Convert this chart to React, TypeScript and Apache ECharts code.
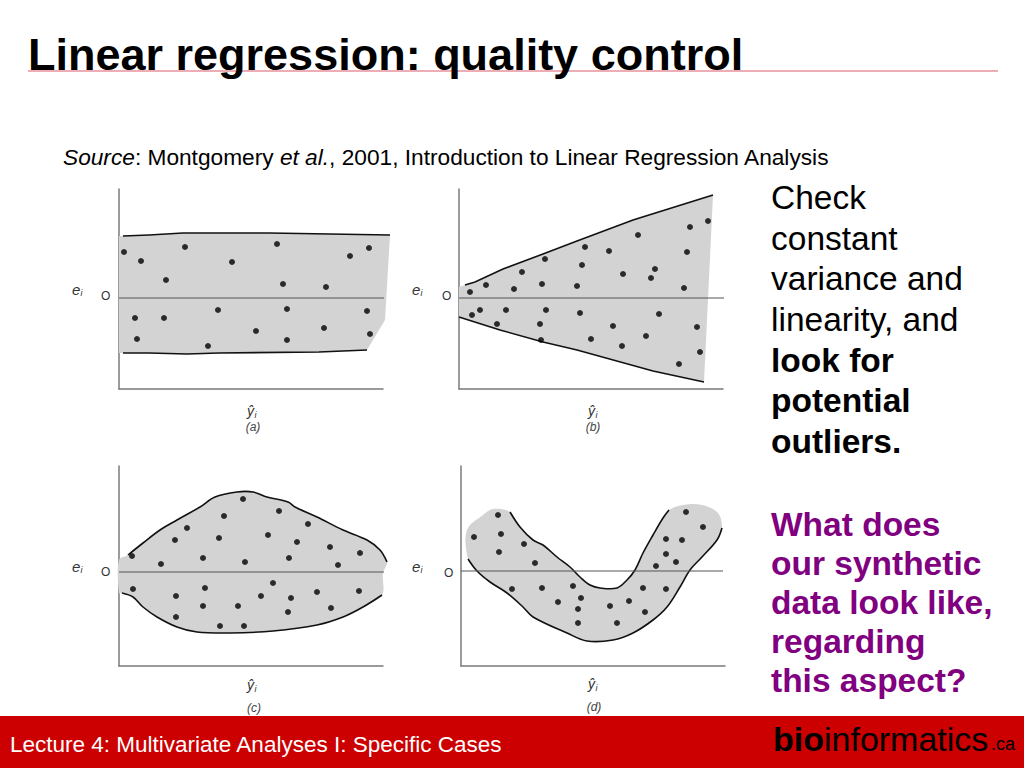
import React, { useEffect, useRef } from "react";
import * as echarts from "echarts";

// ---------- texts ----------
const TITLE = "Linear regression: quality control";
const FOOTER = "Lecture 4: Multivariate Analyses I: Specific Cases";
const BLACK_LINES = [
  { t: "Check", b: false },
  { t: "constant", b: false },
  { t: "variance and", b: false },
  { t: "linearity, and", b: false },
  { t: "look for", b: true },
  { t: "potential", b: true },
  { t: "outliers.", b: true },
];
const PURPLE_LINES = ["What does", "our synthetic", "data look like,", "regarding", "this aspect?"];
const PANEL_TAGS = ["(a)", "(b)", "(c)", "(d)"];

// ---------- panel (a): constant variance ----------
const dotsA = [
  [5, 46], [22, 37], [66, 51], [47, 18], [113, 36], [158, 54], [164, 14], [207, 11], [231, 42], [250, 50],
  [16, -20], [45, -20], [18, -41], [99, -12], [89, -48], [137, -33], [168, -11], [168, -42], [205, -30],
  [248, -13], [251, -36],
];
const upperA = [[4, 62], [30, 63], [64, 65], [150, 65], [271, 63]];
const lowerA = [[4, -55], [30, -55], [68, -56], [100, -55], [200, -54], [248, -52]];
const rightA = [[266, -22]];

// ---------- panel (b): funnel ----------
const dotsB = [
  [11, 6], [27, 13], [55, 9], [63, 26], [83, 14], [86, 39], [118, 12], [123, 33], [126, 51], [150, 47],
  [164, 24], [179, 63], [192, 20], [196, 29], [225, 10], [228, 46], [231, 71], [249, 77],
  [13, -17], [21, -12], [38, -26], [47, -12], [81, -26], [87, -12], [82, -42], [121, -15], [132, -41],
  [154, -28], [163, -48], [187, -38], [200, -16], [220, -66], [238, -29], [241, -54],
];
const upperB = [[6, 13], [16, 16], [44, 29], [84, 44], [118, 57], [174, 78], [254, 103]];
const lowerB = [[0, -19], [41, -32], [84, -44], [118, -52], [194, -73], [245, -84]];

// ---------- panel (c): double bow ----------
const dotsC = [
  [13, 16], [42, 8], [56, 32], [68, 44], [84, 14], [100, 34], [105, 56], [124, 73], [126, 10], [149, 37],
  [160, 61], [170, 14], [178, 30], [189, 48], [211, 25], [219, 7], [241, 19],
  [14, -17], [57, -24], [57, -45], [84, -34], [86, -16], [101, -54], [119, -34], [125, -54], [142, -24],
  [154, -11], [169, -40], [172, -26], [198, -20], [212, -36], [240, -19],
];
const upperC = [
  [9, 17], [24, 29], [41, 42], [58, 52], [81, 65], [96, 75], [118, 80], [134, 80], [148, 75], [169, 70],
  [176, 65], [198, 55], [224, 42], [248, 32], [261, 22], [268, 10],
];
const lowerC = [
  [3, -21], [14, -25], [24, -35], [38, -45], [58, -55], [78, -60], [111, -61], [154, -59], [198, -53],
  [224, -45], [244, -35], [263, -23],
];

// ---------- panel (d): nonlinear ----------
const dotsD = [
  [13, 34], [37, 56], [40, 37], [38, 19], [63, 27], [74, 8], [51, -18], [81, -17], [97, -31], [112, -15],
  [120, -27], [117, -38], [117, -52], [149, -35], [156, -52], [168, -30], [182, -17], [184, -41],
  [205, -18], [195, 5], [205, 17], [215, 9], [205, 32], [221, 31], [225, 59], [242, 44],
];
const innerD = [
  [49, 59], [59, 44], [72, 31], [82, 26], [96, 14], [109, 4], [119, -6], [129, -14], [139, -17], [156, -17],
  [166, -9], [174, 1], [182, 18], [192, 36], [202, 53], [208, 61],
];
const outerD = [
  [261, 43], [256, 31], [241, 14], [229, 1], [219, -16], [206, -36], [192, -49], [172, -62], [152, -69],
  [126, -70], [106, -62], [72, -46], [62, -36], [46, -22], [29, -11], [16, 0], [7, 12],
];
const leftCapD = [[6, 41], [22, 56], [32, 62]];
const rightCapD = [[222, 66], [241, 66], [257, 58]];

const shadeA = [[0, 62], ...upperA, ...rightA, ...lowerA.slice().reverse(), [0, -55]];
const shadeB = [[0, 11], ...upperB, ...lowerB.slice().reverse()];
const shadeC = [[0, 12], ...upperC, [264, -1], ...lowerC.slice().reverse(), [0, -21]];
const shadeD = [...leftCapD, ...innerD, ...rightCapD, ...outerD];

const PANELS = [
  { left: 119, top: 189, yMin: -91, yMax: 109, zeroEnd: 267, dots: dotsA, shade: shadeA, strokes: [upperA, lowerA], smooth: 0 },
  { left: 459, top: 189, yMin: -91, yMax: 109, zeroEnd: 269, dots: dotsB, shade: shadeB, strokes: [upperB, lowerB], smooth: 0 },
  { left: 119, top: 466, yMin: -94, yMax: 106, zeroEnd: 266, dots: dotsC, shade: shadeC, strokes: [upperC, lowerC], smooth: 0.35 },
  { left: 461, top: 466, yMin: -95, yMax: 105, zeroEnd: 262, dots: dotsD, shade: shadeD, strokes: [innerD, outerD], smooth: 0.35 },
];

const W = 264;
const H = 200;
const FONT = '"Liberation Sans", Arial, Helvetica, sans-serif';

function buildOption() {
  const grid: any[] = [];
  const xAxis: any[] = [];
  const yAxis: any[] = [];
  const series: any[] = [];
  const axisLine = { show: true, lineStyle: { color: "#7a7a7a", width: 1.5 } };

  PANELS.forEach((p, i) => {
    grid.push({ left: p.left, top: p.top, width: W, height: H });
    xAxis.push({
      type: "value", gridIndex: i, min: 0, max: W, position: "bottom",
      axisLine: { ...axisLine, onZero: false }, axisTick: { show: false }, axisLabel: { show: false }, splitLine: { show: false },
    });
    yAxis.push({
      type: "value", gridIndex: i, min: p.yMin, max: p.yMax, position: "left",
      axisLine: { ...axisLine, onZero: false }, axisTick: { show: false }, axisLabel: { show: false }, splitLine: { show: false },
    });
    const shade = p.shade;
    const strokes = p.strokes;
    const smooth = p.smooth;
    series.push({
      type: "custom", xAxisIndex: i, yAxisIndex: i, clip: false, silent: true, z: 1,
      data: [[0, 0]],
      renderItem: (params: any, api: any) => {
        if (params.dataIndex !== 0) return null;
        const toPx = (pts: number[][]) => pts.map((q) => api.coord(q));
        const children: any[] = [
          { type: "polygon", shape: { points: toPx(shade), smooth }, style: { fill: "#d3d3d3", stroke: null } },
        ];
        strokes.forEach((s) => {
          children.push({
            type: "polyline", shape: { points: toPx(s), smooth },
            style: { stroke: "#111", lineWidth: 1.6, fill: null },
          });
        });
        return { type: "group", children };
      },
    });
    series.push({
      type: "line", xAxisIndex: i, yAxisIndex: i, clip: false, silent: true, z: 3,
      data: [[0, 0], [p.zeroEnd, 0]], symbol: "none",
      lineStyle: { color: "#555", width: 1 },
    });
    series.push({
      type: "scatter", xAxisIndex: i, yAxisIndex: i, clip: false, silent: true, z: 4,
      data: p.dots, symbol: "circle", symbolSize: 6,
      itemStyle: { color: "#000" },
    });
  });

  const t = (x: number, y: number, text: string, font: string, fill: string, extra: any = {}) => ({
    type: "text", x, y, z: 10,
    style: { text, font, fill, align: "left", verticalAlign: "middle", ...extra },
  });

  const elements: any[] = [];
  // title + underline
  elements.push({ type: "line", z: 5, shape: { x1: 28, y1: 71, x2: 998, y2: 71 }, style: { stroke: "#e8919c", lineWidth: 1.5 } });
  elements.push(t(28, 54, TITLE, `bold 45px ${FONT}`, "#000"));
  // source
  elements.push({
    type: "text", x: 63, y: 157, z: 10,
    style: {
      text: "{i|Source}{n|: Montgomery }{i|et al.}{n|, 2001, Introduction to Linear Regression Analysis}",
      verticalAlign: "middle", align: "left",
      rich: {
        i: { fontFamily: FONT, fontSize: 22.7, fontStyle: "italic", fill: "#000" },
        n: { fontFamily: FONT, fontSize: 22.7, fill: "#000" },
      },
    },
  });
  // right-hand black text
  const blackBase = [209, 250, 290.5, 331, 372, 412.5, 453];
  BLACK_LINES.forEach((l, k) => {
    elements.push(t(771, blackBase[k] - 11.6, l.t, `${l.b ? "bold " : ""}33.5px ${FONT}`, "#000"));
  });
  const purpleBase = [536.5, 575, 614, 653, 692];
  PURPLE_LINES.forEach((l, k) => {
    elements.push(t(771, purpleBase[k] - 11.6, l, `bold 33.5px ${FONT}`, "#800080"));
  });
  // panel labels
  const eLab = [[72, 289], [412, 289], [72, 566], [412, 566]];
  const oLab = [[101, 296], [442, 296], [101, 572], [444, 573]];
  const yLab = [[247, 411], [588, 411], [247, 685], [588, 684]];
  const tagLab = [[253, 427], [593, 427], [254, 708], [594, 707]];
  for (let k = 0; k < 4; k++) {
    elements.push(t(eLab[k][0], eLab[k][1], "e", `italic 15px ${FONT}`, "#333"));
    elements.push(t(eLab[k][0] + 8.5, eLab[k][1] + 4, "i", `italic 9px ${FONT}`, "#333"));
    elements.push(t(oLab[k][0], oLab[k][1], "O", `12px ${FONT}`, "#333"));
    elements.push(t(yLab[k][0], yLab[k][1], "ŷ", `italic 14px ${FONT}`, "#333"));
    elements.push(t(yLab[k][0] + 7.5, yLab[k][1] + 4, "i", `italic 9px ${FONT}`, "#333"));
    elements.push(t(tagLab[k][0], tagLab[k][1], PANEL_TAGS[k], `italic 12px ${FONT}`, "#444", { align: "center" }));
  }
  // footer
  elements.push({ type: "rect", z: 8, shape: { x: 0, y: 716, width: 1024, height: 52 }, style: { fill: "#cc0000" } });
  elements.push(t(10, 744, FOOTER, `22.5px ${FONT}`, "#fff"));
  elements.push({
    type: "text", x: 773, y: 738.5, z: 10,
    style: {
      text: "{b|bio}{r|informatics}", align: "left", verticalAlign: "middle",
      rich: {
        b: { fontFamily: FONT, fontSize: 34, fontWeight: "bold", fill: "#000" },
        r: { fontFamily: FONT, fontSize: 34, fill: "#000" },
      },
    },
  });
  elements.push(t(991, 743.5, ".ca", `18px ${FONT}`, "#000"));

  return {
    animation: false,
    backgroundColor: "#fff",
    grid, xAxis, yAxis, series,
    graphic: { elements },
  };
}

export default function App() {
  const ref = useRef<HTMLDivElement>(null);
  useEffect(() => {
    if (!ref.current) return;
    const chart = echarts.init(ref.current, undefined, { renderer: "svg" });
    chart.setOption(buildOption() as any);
    return () => chart.dispose();
  }, []);
  return <div ref={ref} style={{ position: "fixed", left: 0, top: 0, width: 1024, height: 768 }} />;
}
